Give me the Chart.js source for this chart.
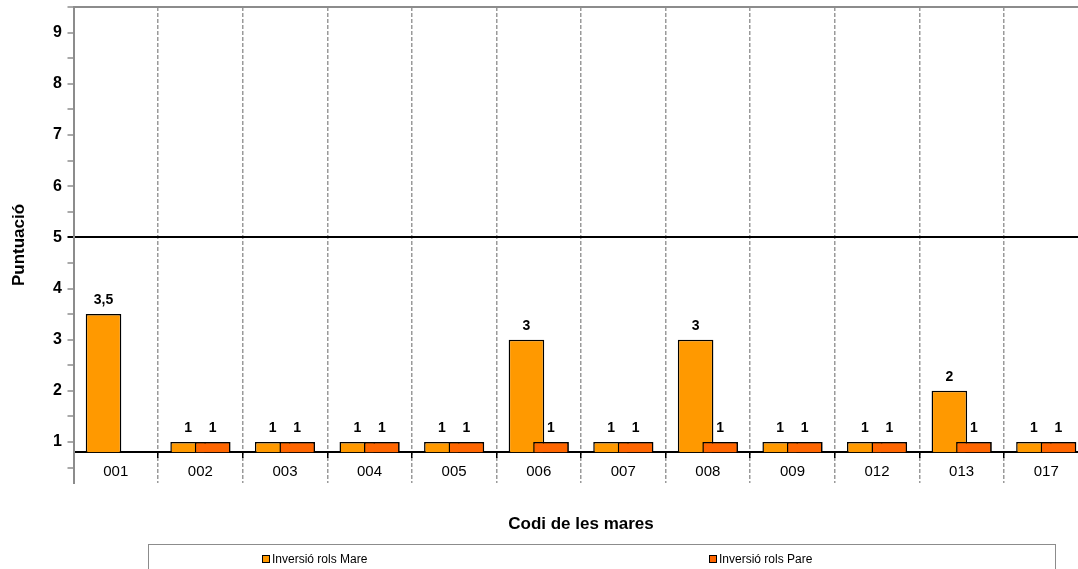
<!DOCTYPE html>
<html>
<head>
<meta charset="utf-8">
<script src="https://cdn.jsdelivr.net/npm/chart.js@4.4.1/dist/chart.umd.min.js"></script>
<style>
html,body{margin:0;padding:0;overflow:hidden;background:#fff;width:1078px;height:569px;}
#wrap{position:absolute;left:0;top:0;width:1092px;height:569px;}
</style>
</head>
<body>
<div id="wrap"><canvas id="c" width="1092" height="569"></canvas></div>
<script>
const categories = ['001','002','003','004','005','006','007','008','009','012','013','017'];
const seriesNames = ['Inversió rols Mare','Inversió rols Pare'];
const mareValues = [3.5, 1, 1, 1, 1, 3, 1, 3, 1, 1, 2, 1];
const pareValues = [null, 1, 1, 1, 1, 1, 1, 1, 1, 1, 1, 1];
const yTickValues = [0.5, 1, 1.5, 2, 2.5, 3, 3.5, 4, 4.5, 5, 5.5, 6, 6.5, 7, 7.5, 8, 8.5, 9, 9.5];
const yLabeledTicks = [1, 2, 3, 4, 5, 6, 7, 8, 9];
const referenceLine = 5;
const axisCross = 0.8;
const yMin = 0.2, yMax = 9.5;

const FONT = "'Liberation Sans', Arial, Helvetica, sans-serif";

const overlayPlugin = {
  id: 'overlay',
  afterDatasetsDraw(chart) {
    const ctx = chart.ctx;
    // Pare series drawn on top of Mare
    const pm = chart.getDatasetMeta(1);
    if (!pm.hidden) pm.controller.draw();
    // value labels
    ctx.save();
    ctx.fillStyle = '#000';
    ctx.font = 'bold 14px ' + FONT;
    ctx.textAlign = 'center';
    ctx.textBaseline = 'middle';
    chart.data.datasets.forEach((ds, di) => {
      const meta = chart.getDatasetMeta(di);
      meta.data.forEach((el, i) => {
        const v = ds.data[i];
        if (v === null || v === undefined) return;
        ctx.fillText(String(v).replace('.', ','), el.x, el.y - 13.5);
      });
    });
    ctx.restore();
  },
  afterDraw(chart) {
    const ctx = chart.ctx;
    ctx.save();
    ctx.strokeStyle = '#8c8c8c';
    ctx.lineWidth = 1;
    ctx.strokeRect(148.5, 544.5, 907, 40);
    const items = [{x: 262}, {x: 709}];
    ctx.font = '12px ' + FONT;
    ctx.textBaseline = 'middle';
    ctx.textAlign = 'left';
    chart.data.datasets.forEach((ds, di) => {
      const it = items[di];
      ctx.fillStyle = ds.backgroundColor;
      ctx.fillRect(it.x, 555, 8, 8);
      ctx.strokeStyle = '#000';
      ctx.strokeRect(it.x + 0.5, 555.5, 7, 7);
      ctx.fillStyle = '#000';
      ctx.fillText(ds.label, it.x + 10, 559.5);
    });
    ctx.restore();
  }
};

new Chart(document.getElementById('c'), {
  type: 'bar',
  data: {
    labels: categories,
    datasets: [
      {label: seriesNames[0], data: mareValues, backgroundColor: '#FF9900', borderColor: '#000', borderWidth: 1.5, base: axisCross},
      {label: seriesNames[1], data: pareValues, backgroundColor: '#FF6600', borderColor: '#000', borderWidth: 1.5, base: axisCross}
    ]
  },
  options: {
    responsive: false,
    animation: false,
    devicePixelRatio: 1,
    categoryPercentage: 0.58,
    barPercentage: 1.45,
    layout: {padding: {left: 0, top: 7, right: 3.5, bottom: 86}},
    plugins: {legend: {display: false}, tooltip: {enabled: false}, title: {display: false}},
    scales: {
      x: {
        position: {y: axisCross},
        offset: true,
        grid: {
          offset: true,
          color: '#9a9a9a',
          lineWidth: 1.5,
          tickLength: 5,
          tickColor: '#000',
          tickWidth: 1.5,
          tickBorderDash: []
        },
        border: {display: true, color: '#000', width: 2, dash: [4, 2]},
        ticks: {
          autoSkip: false, maxRotation: 0, padding: 6, color: '#000',
          font: {family: FONT, size: 15}
        },
        title: {
          display: true, text: 'Codi de les mares', color: '#000',
          font: {family: FONT, size: 17, weight: 'bold'},
          padding: {top: 27, bottom: 0}
        }
      },
      y: {
        min: yMin, max: yMax,
        afterBuildTicks(scale) { scale.ticks = yTickValues.map(v => ({value: v})); },
        afterFit(scale) { scale.width = 73.5; scale.paddingTop = 0; scale.paddingBottom = 0; },
        grid: {
          color: c => c.tick && c.tick.value === referenceLine ? '#000' : (c.tick && c.tick.value === yMax ? '#8c8c8c' : 'rgba(0,0,0,0)'),
          lineWidth: 2,
          tickColor: c => c.tick && c.tick.value === referenceLine ? '#000' : '#8c8c8c',
          tickWidth: c => c.tick && c.tick.value === referenceLine ? 2 : 1.5,
          tickLength: 6
        },
        border: {display: true, color: '#8c8c8c', width: 2},
        ticks: {
          padding: 5.5, color: '#000',
          font: {family: FONT, size: 16, weight: 'bold'},
          callback: v => yLabeledTicks.includes(v) ? String(v) : ''
        },
        title: {
          display: true, text: 'Puntuació', color: '#000',
          font: {family: FONT, size: 17, weight: 'bold'},
          padding: {top: 9, bottom: 0}
        }
      }
    }
  },
  plugins: [overlayPlugin]
});
</script>
</body>
</html>
